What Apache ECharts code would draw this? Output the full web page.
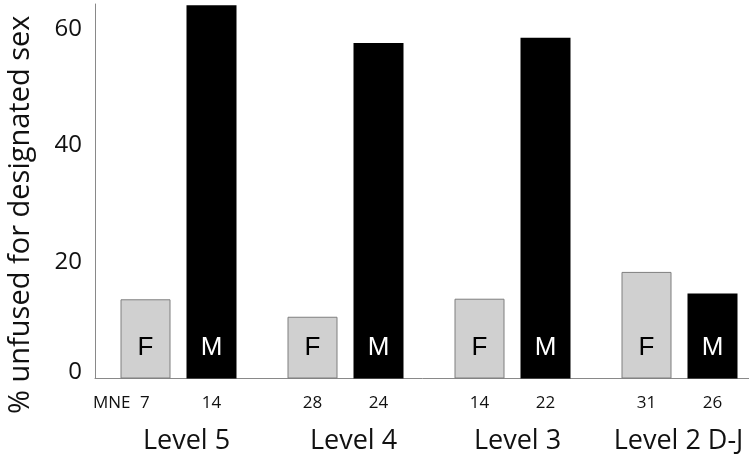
<!DOCTYPE html>
<html>
<head>
<meta charset="utf-8">
<script src="https://cdn.jsdelivr.net/npm/echarts@6/dist/echarts.min.js"></script>
<style>html,body{margin:0;padding:0;background:#fff}#c{width:749px;height:456px}</style>
</head>
<body>
<div id="c"></div>
<script>
// ---- data ----
const categories = ['Level 5', 'Level 4', 'Level 3', 'Level 2 D-J'];
const femaleValues = [13.6, 10.6, 13.7, 18.3];
const maleValues = [64.1, 57.6, 58.5, 14.6];
const mneFemale = [7, 28, 14, 31];
const mneMale = [14, 24, 22, 26];
const yTicks = [0, 20, 40, 60];
const yTitle = '% unfused for designated sex';

const chart = echarts.init(document.getElementById('c'), null, {renderer: 'canvas'});

const option = {
  animation: false,
  backgroundColor: '#ffffff',
  grid: {left: 95, top: 4, width: 668, height: 374.5, outerBoundsMode: 'none', containLabel: false},
  xAxis: [
    {
      type: 'category',
      data: categories,
      position: 'bottom',
      axisLine: {show: true, lineStyle: {color: '#898989', width: 1}},
      axisTick: {show: false},
      axisLabel: {
        interval: 0,
        margin: 16,
        formatter: function (v, i) {
          if (i === 0) {
            return '{m|MNE}{a|' + mneFemale[i] + '}{s0| }{n|' + mneMale[i] + '}{e| }';
          }
          return '{n|' + mneFemale[i] + '}{s| }{n|' + mneMale[i] + '}';
        },
        rich: {
          m: {width: 40, align: 'center', fontFamily: 'Open Sans', fontSize: 17, color: '#111'},
          a: {width: 26, align: 'center', fontFamily: 'Open Sans', fontSize: 17, color: '#111'},
          s0: {width: 28.7, align: 'center', fontSize: 17},
          e: {width: 28.7, align: 'center', fontSize: 17},
          n: {width: 50, align: 'center', fontFamily: 'Open Sans', fontSize: 17, color: '#111'},
          s: {width: 16, align: 'center', fontSize: 17}
        }
      }
    },
    {
      type: 'category',
      data: categories,
      position: 'bottom',
      axisLine: {show: false},
      axisTick: {show: false},
      axisLabel: {
        interval: 0,
        margin: 49,
        formatter: function (v, i) {
          if (i === 3) return '{l|' + v + '}{q3| }';
          return '{p' + i + '| }{l|' + v + '}';
        },
        rich: {
          l: {fontFamily: 'Open Sans', fontSize: 27, color: '#111', align: 'center'},
          p0: {width: 16, align: 'center', fontSize: 27},
          p1: {width: 16, align: 'center', fontSize: 27},
          p2: {width: 10, align: 'center', fontSize: 27},
          q3: {width: 2, align: 'center', fontSize: 27}
        }
      }
    }
  ],
  yAxis: {
    type: 'value',
    min: 0,
    max: 64.3,
    interval: 20,
    name: yTitle,
    nameLocation: 'middle',
    nameRotate: 90,
    nameGap: 60,
    nameTextStyle: {fontFamily: 'Open Sans', fontSize: 29, color: '#111', padding: [0, 47, 0, 0]},
    axisLine: {show: true, lineStyle: {color: '#898989', width: 1}},
    axisTick: {show: false},
    splitLine: {show: false},
    axisLabel: {
      margin: 13,
      fontFamily: 'Open Sans',
      fontSize: 24,
      color: '#111',
      formatter: function (v) {
        if (v === 0) return '{z|0}';
        return yTicks.indexOf(v) >= 0 ? String(v) : '';
      },
      rich: {
        z: {fontFamily: 'Open Sans', fontSize: 24, color: '#111', padding: [0, 0, 12, 0]}
      }
    }
  },
  series: [
    {
      name: 'F',
      type: 'bar',
      xAxisIndex: 0,
      data: femaleValues,
      barWidth: 50,
      barGap: '32%',
      itemStyle: {color: '#d0d0d0', borderColor: '#7f7f7f', borderWidth: 1},
      label: {show: true, position: 'insideBottom', distance: 18, formatter: 'F',
        fontFamily: 'Liberation Sans', fontSize: 26, color: '#000'}
    },
    {
      name: 'M',
      type: 'bar',
      xAxisIndex: 0,
      data: maleValues,
      barWidth: 50,
      itemStyle: {color: '#000000'},
      label: {show: true, position: 'insideBottom', distance: 18, formatter: 'M',
        fontFamily: 'Liberation Sans', fontSize: 26, color: '#ffffff'}
    }
  ]
};
chart.setOption(option);
</script>
</body>
</html>
